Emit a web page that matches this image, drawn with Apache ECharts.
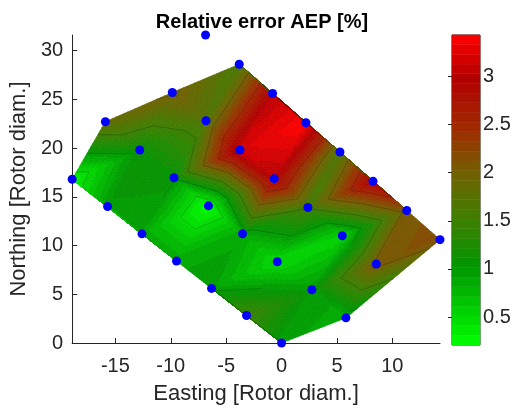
<!DOCTYPE html>
<html><head><meta charset="utf-8">
<script src="https://cdn.jsdelivr.net/npm/echarts@6/dist/echarts.min.js"></script>
<style>html,body{margin:0;padding:0;background:#fff}#c{width:516px;height:410px}</style>
</head><body><div id="c"></div>
<script>
// Turbine positions [rotor diam.] and relative AEP error [%] (null = no value)
const eastings  = [-6.86,-3.82,-9.86,-0.81,-15.9,-6.82,2.2,-12.8,-3.75,5.27,-18.9,-9.71,-0.66,8.25,-15.7,-6.6,2.38,11.3,-12.6,-3.52,5.48,14.3,-9.48,-0.39,8.55,-6.32,2.74,-3.16,5.81,0.0];
const northings = [31.6,28.6,25.7,25.6,22.7,22.8,22.6,19.8,19.8,19.6,16.8,16.96,16.86,16.6,14.0,14.07,13.9,13.6,11.2,11.2,11.0,10.6,8.41,8.34,8.1,5.6,5.46,2.82,2.58,0.0];
const errors    = [null,1.6,2.05,3.0,1.85,1.7,3.43,1.1,3.2,1.65,0.3,1.05,3.0,3.0,1.0,0.21,1.55,2.1,0.9,0.9,0.55,2.15,0.9,0.5,2.1,0.95,1.0,1.5,0.85,0.95];
const xTicks = [-15,-10,-5,0,5,10];
const yTicks = [0,5,10,15,20,25,30];
const cbTicks = [0.5,1,1.5,2,2.5,3];
const contourLevels = [0.5,1,1.5,2,2.5,3];

// colormap (style)
const cStops = [[0,[0,255,0]],[0.25,[0,150,0]],[0.4,[60,128,0]],[0.55,[112,98,0]],[0.7,[160,42,0]],[0.86,[178,0,0]],[1,[255,0,0]]];
const nLevels = 32;
const valid = errors.map((v,i)=>v==null?-1:i).filter(i=>i>=0);
const cMin = Math.min(...valid.map(i=>errors[i]));
const cMax = Math.max(...valid.map(i=>errors[i]));
function cmap(v){
  let t=(v-cMin)/(cMax-cMin); t=Math.max(0,Math.min(1,t));
  const k=Math.min(nLevels-1,Math.floor(t*nLevels)); t=(k+0.5)/nLevels;
  for(let s=1;s<cStops.length;s++){
    if(t<=cStops[s][0]){
      const [t0,c0]=cStops[s-1],[t1,c1]=cStops[s]; const f=(t-t0)/(t1-t0);
      return 'rgb('+c0.map((c,j)=>Math.round(c+(c1[j]-c)*f)).join(',')+')';
    }
  }
  return 'rgb(255,0,0)';
}

// Delaunay triangulation (Bowyer-Watson) of turbines with values
function delaunay(ids){
  const P = ids.map(i=>[eastings[i],northings[i]]); const n=P.length; const B=1e5;
  P.push([-B,-B],[B,-B],[0,B]);
  let tris=[[n,n+1,n+2]];
  const circ=(t)=>{const [ax,ay]=P[t[0]],[bx,by]=P[t[1]],[cx,cy]=P[t[2]];
    const d=2*(ax*(by-cy)+bx*(cy-ay)+cx*(ay-by));
    const ux=((ax*ax+ay*ay)*(by-cy)+(bx*bx+by*by)*(cy-ay)+(cx*cx+cy*cy)*(ay-by))/d;
    const uy=((ax*ax+ay*ay)*(cx-bx)+(bx*bx+by*by)*(ax-cx)+(cx*cx+cy*cy)*(bx-ax))/d;
    return [ux,uy,(ax-ux)*(ax-ux)+(ay-uy)*(ay-uy)];};
  for(let i=0;i<n;i++){
    const [px,py]=P[i]; const bad=[],keep=[];
    for(const t of tris){const [ux,uy,r2]=circ(t); if((px-ux)*(px-ux)+(py-uy)*(py-uy)<r2) bad.push(t); else keep.push(t);}
    const edges=[];
    for(const t of bad){for(const e of [[t[0],t[1]],[t[1],t[2]],[t[2],t[0]]]){
      const k=edges.findIndex(f=>(f[0]===e[1]&&f[1]===e[0])||(f[0]===e[0]&&f[1]===e[1]));
      if(k>=0) edges.splice(k,1); else edges.push(e);}}
    tris=keep; for(const e of edges) tris.push([e[0],e[1],i]);
  }
  return tris.filter(t=>t.every(v=>v<n)).map(t=>t.map(v=>ids[v]));
}
const tris = delaunay(valid);

function renderSurface(params, api){
  const t=tris[params.dataIndex];
  const P=t.map(i=>api.coord([eastings[i],northings[i]]));
  const V=t.map(i=>errors[i]);
  const n=18, ch=[];
  const pt=(a,b)=>{const c=n-a-b;return [(a*P[0][0]+b*P[1][0]+c*P[2][0])/n,(a*P[0][1]+b*P[1][1]+c*P[2][1])/n];};
  const val=(a,b)=>{const c=n-a-b;return (a*V[0]+b*V[1]+c*V[2])/n;};
  for(let a=0;a<n;a++)for(let b=0;b<n-a;b++){
    let col=cmap((val(a,b)+val(a+1,b)+val(a,b+1))/3);
    ch.push({type:'polygon',shape:{points:[pt(a,b),pt(a+1,b),pt(a,b+1)]},style:{fill:col,stroke:col,lineWidth:0.7}});
    if(a+b<n-1){
      col=cmap((val(a+1,b)+val(a+1,b+1)+val(a,b+1))/3);
      ch.push({type:'polygon',shape:{points:[pt(a+1,b),pt(a+1,b+1),pt(a,b+1)]},style:{fill:col,stroke:col,lineWidth:0.7}});
    }
  }
  return {type:'group',children:ch,silent:true};
}
function renderContours(params, api){
  const t=tris[params.dataIndex];
  const P=t.map(i=>api.coord([eastings[i],northings[i]]));
  const V=t.map(i=>errors[i]); const ch=[];
  for(const L of contourLevels){
    const pts=[];
    for(const [i,j] of [[0,1],[1,2],[2,0]]){
      if((V[i]-L)*(V[j]-L)<0){const f=(L-V[i])/(V[j]-V[i]);pts.push([P[i][0]+(P[j][0]-P[i][0])*f,P[i][1]+(P[j][1]-P[i][1])*f]);}
    }
    if(pts.length===2) ch.push({type:'line',shape:{x1:pts[0][0],y1:pts[0][1],x2:pts[1][0],y2:pts[1][1]},style:{stroke:'rgba(0,0,0,0.28)',lineWidth:0.7}});
  }
  return {type:'group',children:ch,silent:true};
}
const bands=[...Array(nLevels).keys()];
function renderBar(params, api){
  const k=bands[params.dataIndex]; const h=(cMax-cMin)/nLevels;
  const p0=api.coord([0,cMin+k*h]), p1=api.coord([1,cMin+(k+1)*h]);
  const col=cmap(cMin+(k+0.5)*h);
  return {type:'rect',shape:{x:p0[0],y:p1[1],width:p1[0]-p0[0],height:p0[1]-p1[1]},style:{fill:col,stroke:col,lineWidth:0.5},silent:true};
}

const FONT='Liberation Sans', INK='#262626';
const xMin=Math.min(...eastings), xMax=Math.max(...eastings);
const yMin=Math.min(...northings), yMax=Math.max(...northings);
const chart=echarts.init(document.getElementById('c'),null,{renderer:'canvas'});
chart.setOption({
  animation:false,
  title:{text:'Relative error AEP [%]',left:257,top:7,textAlign:'center',textStyle:{fontFamily:FONT,fontSize:20,fontWeight:'bold',color:'#000'}},
  grid:[{left:72,top:35,width:368,height:311},{left:452,top:35,width:28,height:310,show:true,borderColor:INK,borderWidth:1,backgroundColor:'transparent'}],
  xAxis:[{type:'value',gridIndex:0,min:xMin,max:xMax,
      name:'Easting [Rotor diam.]',nameLocation:'middle',nameGap:40,nameTextStyle:{fontFamily:FONT,fontSize:22,color:INK},
      axisLine:{show:true,onZero:false,lineStyle:{color:INK,width:1}},
      axisTick:{show:true,inside:true,length:5,customValues:xTicks,lineStyle:{color:INK}},
      axisLabel:{customValues:xTicks,fontFamily:FONT,fontSize:20,color:INK,margin:13},splitLine:{show:false}},
    {type:'value',gridIndex:1,min:0,max:1,show:false}],
  yAxis:[{type:'value',gridIndex:0,min:yMin,max:yMax,
      name:'Northing [Rotor diam.]',nameLocation:'middle',nameGap:36,nameTextStyle:{fontFamily:FONT,fontSize:22,color:INK},
      axisLine:{show:true,onZero:false,lineStyle:{color:INK,width:1}},
      axisTick:{show:true,inside:true,length:5,customValues:yTicks,lineStyle:{color:INK}},
      axisLabel:{customValues:yTicks,fontFamily:FONT,fontSize:20,color:INK,margin:9},splitLine:{show:false}},
    {type:'value',gridIndex:1,min:cMin,max:cMax,position:'right',
      axisLine:{show:false},
      axisTick:{show:true,inside:true,length:4,customValues:cbTicks,lineStyle:{color:INK}},
      axisLabel:{customValues:cbTicks,fontFamily:FONT,fontSize:20,color:INK,margin:3},splitLine:{show:false}}],
  series:[
    {type:'custom',xAxisIndex:0,yAxisIndex:0,renderItem:renderSurface,data:tris.map(t=>[eastings[t[0]],northings[t[0]]]),encode:{x:0,y:1},clip:false,z:1},
    {type:'custom',xAxisIndex:0,yAxisIndex:0,renderItem:renderContours,data:tris.map(t=>[eastings[t[0]],northings[t[0]]]),encode:{x:0,y:1},clip:false,z:2},
    {type:'scatter',xAxisIndex:0,yAxisIndex:0,data:eastings.map((x,i)=>[x,northings[i]]),symbolSize:9,itemStyle:{color:'#0000ff',opacity:1},clip:false,z:5},
    {type:'custom',xAxisIndex:1,yAxisIndex:1,renderItem:renderBar,data:bands.map(k=>[0.5,cMin+k*(cMax-cMin)/nLevels]),encode:{x:0,y:1},z:1}
  ]
});
</script></body></html>
